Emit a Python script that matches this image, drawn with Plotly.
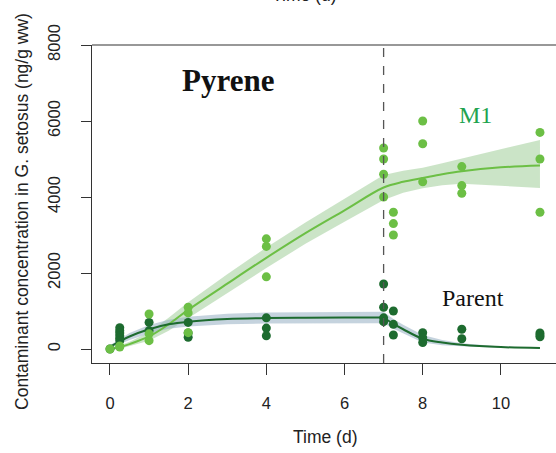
import plotly.graph_objects as go

# ---------------- data ----------------
m1_pts_t = [0, 0.25, 0.25, 1, 1, 1, 2, 2, 2, 4, 4, 4,
            7, 7, 7, 7, 7.25, 7.25, 7.25, 8, 8, 8, 9, 9, 9, 11, 11, 11]
m1_pts_v = [0, 50, 80, 920, 400, 220, 1100, 950, 430, 2900, 2700, 1900,
            5290, 5000, 4600, 4000, 3600, 3300, 3000, 6000, 5400, 4400,
            4800, 4300, 4100, 5700, 5000, 3600]

par_pts_t = [0, 0.25, 0.25, 0.25, 0.25, 0.25, 0.25, 1, 1, 2, 2, 2, 4, 4, 4,
             7, 7, 7, 7, 7.25, 7.25, 7.25, 8, 8, 8, 9, 9, 11, 11, 11]
par_pts_v = [0, 560, 480, 420, 350, 280, 220, 700, 480, 700, 420, 310, 820, 550, 350,
             1710, 1100, 820, 720, 1000, 650, 370, 430, 300, 170, 520, 270, 420, 370, 320]

m1_fit_t = [0, 0.25, 0.5, 1, 1.5, 2, 3, 4, 5, 6, 7, 7.5, 8, 8.5, 9, 10, 11]
m1_fit_v = [0, 50, 130, 330, 650, 1030, 1720, 2400, 3050, 3650, 4250, 4400, 4500, 4600, 4680, 4780, 4830]
m1_fit_lo = [-30, 10, 70, 220, 480, 830, 1470, 2130, 2770, 3350, 3920, 4110, 4230, 4310, 4350, 4300, 4240]
m1_fit_hi = [30, 90, 190, 440, 820, 1230, 1970, 2670, 3330, 3950, 4580, 4690, 4770, 4890, 5010, 5260, 5500]

par_fit_t1 = [0, 0.25, 0.5, 1, 1.5, 2, 3, 4, 5, 6, 7]
par_fit_v1 = [60, 200, 330, 520, 650, 720, 790, 815, 825, 830, 830]
par_fit_lo1 = [20, 130, 240, 410, 530, 590, 650, 670, 680, 680, 680]
par_fit_hi1 = [100, 270, 420, 630, 770, 850, 930, 960, 970, 980, 980]

par_fit_t2 = [7, 7.25, 7.5, 8, 8.5, 9, 10, 11]
par_fit_v2 = [830, 660, 520, 270, 170, 110, 50, 30]
par_fit_lo2 = [680, 530, 400, 170, 100, 70, 35, 20]
par_fit_hi2 = [980, 790, 640, 370, 240, 150, 65, 40]

x_ticks = [0, 2, 4, 6, 8, 10]
y_ticks = [0, 2000, 4000, 6000, 8000]

# ---------------- styles ----------------
C_M1 = "#6cbf45"
C_PAR = "#1d6b2f"
C_M1_BAND = "rgba(140,195,130,0.45)"
C_PAR_BAND = "rgba(150,175,195,0.55)"

fig = go.Figure()


def band(t, lo, hi, color):
    fig.add_trace(go.Scatter(x=t + t[::-1], y=hi + lo[::-1], fill="toself",
                             fillcolor=color, line=dict(width=0),
                             mode="lines", hoverinfo="skip", showlegend=False))


band(m1_fit_t, m1_fit_lo, m1_fit_hi, C_M1_BAND)
band(par_fit_t1, par_fit_lo1, par_fit_hi1, C_PAR_BAND)
band(par_fit_t2, par_fit_lo2, par_fit_hi2, C_PAR_BAND)

fig.add_trace(go.Scatter(x=m1_fit_t, y=m1_fit_v, mode="lines",
                         line=dict(color=C_M1, width=2, shape="spline"), showlegend=False))
fig.add_trace(go.Scatter(x=par_fit_t1, y=par_fit_v1, mode="lines",
                         line=dict(color=C_PAR, width=2, shape="spline"), showlegend=False))
fig.add_trace(go.Scatter(x=par_fit_t2, y=par_fit_v2, mode="lines",
                         line=dict(color=C_PAR, width=2, shape="spline"), showlegend=False))

fig.add_trace(go.Scatter(x=par_pts_t, y=par_pts_v, mode="markers",
                         marker=dict(color=C_PAR, size=9), showlegend=False))
fig.add_trace(go.Scatter(x=m1_pts_t, y=m1_pts_v, mode="markers",
                         marker=dict(color=C_M1, size=9), showlegend=False))

# dashed vertical line at day 7
fig.add_shape(type="line", xref="x", yref="paper", x0=7, x1=7, y0=0, y1=1,
              line=dict(color="#555555", width=1.3, dash="dash"))
# top box line
fig.add_shape(type="line", xref="paper", yref="paper", x0=0, x1=1, y0=1, y1=1,
              line=dict(color="#333333", width=1.2))

tick_font = dict(family="Liberation Sans, Arial, sans-serif", size=16.5, color="#222222")
title_font = dict(family="Liberation Sans, Arial, sans-serif", size=17.5, color="#222222")

fig.update_xaxes(range=[-0.46, 11.41], tickvals=x_ticks, ticktext=[str(v) for v in x_ticks],
                 showgrid=False, zeroline=False, showline=True, linecolor="#333333", linewidth=1.2,
                 ticks="outside", ticklen=11, tickcolor="#333333", tickwidth=1.2,
                 tickfont=tick_font, ticklabelstandoff=14, automargin=False)
fig.update_yaxes(range=[-368, 8000], tickvals=y_ticks, ticktext=[str(v) for v in y_ticks],
                 showgrid=False, zeroline=False, showline=True, linecolor="#333333", linewidth=1.2,
                 ticks="outside", ticklen=10, tickcolor="#333333", tickwidth=1.2,
                 tickfont=tick_font, tickangle=-90, ticklabelstandoff=14, automargin=False)

annos = [
    dict(text="Contaminant concentration in G. setosus (ng/g ww)", xref="paper", yref="paper",
         x=0, y=0.475, xshift=-70, textangle=-90, showarrow=False,
         xanchor="center", yanchor="middle", font=title_font),
    dict(text="Time (d)", xref="paper", yref="paper", x=0.504, y=0, yshift=-74,
         showarrow=False, xanchor="center", yanchor="middle", font=title_font),
    dict(text="Time (d)", xref="paper", yref="paper", x=0.457, y=1, yshift=38,
         showarrow=False, xanchor="center", yanchor="bottom", font=title_font),
    dict(text="<b>Pyrene</b>", xref="paper", yref="paper", x=(228 - 92) / 464, y=(363 - 80) / 318,
         showarrow=False, xanchor="center", yanchor="middle",
         font=dict(family="Liberation Serif, Times New Roman, serif", size=31, color="#111111")),
    dict(text="M1", xref="paper", yref="paper", x=(475 - 92) / 464, y=(363 - 115) / 318,
         showarrow=False, xanchor="center", yanchor="middle",
         font=dict(family="Liberation Serif, Times New Roman, serif", size=24, color="#22a34f")),
    dict(text="Parent", xref="paper", yref="paper", x=(473 - 92) / 464, y=(363 - 298) / 318,
         showarrow=False, xanchor="center", yanchor="middle",
         font=dict(family="Liberation Serif, Times New Roman, serif", size=24, color="#111111")),
]

fig.update_layout(width=556, height=453, margin=dict(l=92, r=0, t=45, b=90, pad=0),
                  plot_bgcolor="white", paper_bgcolor="white", annotations=annos,
                  showlegend=False)

fig.write_html("out.html", config={"displayModeBar": False},
               post_script="document.body.style.margin='0';")
